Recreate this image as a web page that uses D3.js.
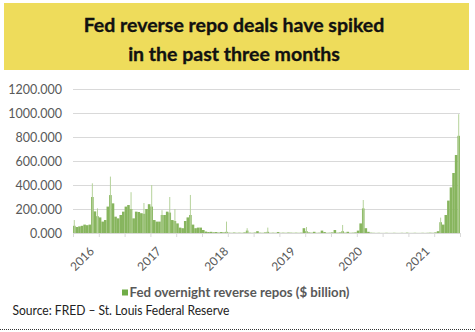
<!DOCTYPE html>
<html>
<head>
<meta charset="utf-8">
<script src="https://cdn.jsdelivr.net/npm/d3@7/dist/d3.min.js"></script>
<style>
body { margin: 0; background: #fff; }
svg { display: block; font-family: Lato, "Open Sans", sans-serif; }
.axis path { display: none; }
.axis line { stroke: #d9d9d9; }
.axis text { fill: #595959; }
</style>
</head>
<body>
<svg width="475" height="332"></svg>
<script>

// chart text
var titleLines = ["Fed reverse repo deals have spiked", "in the past three months"];
var seriesName = "Fed overnight reverse repos ($ billion)";
var sourceText = "Source: FRED \u2013 St. Louis Federal Reserve";

// y axis ticks ($ billion)
var yTicks = [0, 200, 400, 600, 800, 1000, 1200];

// x axis: year labels and the period they sit on
var yearLabels = ["2016", "2017", "2018", "2019", "2020", "2021"];
var yearLabelPeriod = [8, 34, 60, 86, 112, 138];

// series values, one per period
var repos2015_16 = [60, 50, 55, 60, 70, 65, 70, 300, 180, 140, 130, 95, 108, 220, 316, 247,
                    136, 122, 150, 178, 220, 233, 200, 122, 178, 175, 165, 160, 200, 240];
var repos2016_17 = [220, 108, 95, 95, 150, 150, 178, 170, 108, 100, 80, 45, 40, 100, 130, 150,
                    70, 40, 45, 45, 25, 12, 8, 10, 6, 8, 4, 8, 5, 10];
var repos2018_19 = [3, 2, 4, 2, 3, 2, 5, 20, 3, 2, 4, 15, 3, 2, 5, 10,
                    2, 3, 2, 8, 2, 3, 2, 4, 3, 2, 3, 2, 3, 40];
var repos2019_20 = [15, 5, 3, 10, 2, 3, 20, 8, 2, 3, 5, 25, 3, 5, 15, 3,
                    10, 2, 3, 5, 20, 80, 205, 40, 10, 3, 2, 1, 2, 1];
var repos2020_21 = [1, 2, 1, 1, 2, 1, 1, 2, 1, 3, 1, 1, 2, 1, 1, 2,
                    1, 2, 3, 2, 5, 15, 90, 70, 150, 270, 380, 500, 650, 810];

// single-day spikes: period and value
var spikePeriod = [0, 7, 9, 14, 22, 27, 30, 34, 37, 39, 45, 59, 67, 75, 90, 104, 112, 142, 149];
var spikeValue = [108, 414, 205, 470, 340, 250, 400, 190, 300, 200, 317, 95, 40, 45, 50, 67, 275, 128, 990];

var repos = [].concat(repos2015_16, repos2016_17, repos2018_19, repos2019_20, repos2020_21);
var periods = d3.range(repos.length);

var svg = d3.select("svg");

// yellow title banner
svg.append("rect")
    .attr("x", 4).attr("y", 3)
    .attr("width", 465).attr("height", 67)
    .attr("fill", "#eedc5b");

svg.append("g").selectAll("text")
    .data(titleLines)
  .enter().append("text")
    .attr("x", 234)
    .attr("y", function(d, i) { return 31.5 + i * 29; })
    .attr("text-anchor", "middle")
    .attr("font-weight", "bold")
    .attr("font-size", "19.5px")
    .attr("fill", "#111")
    .attr("stroke", "#111")
    .attr("stroke-width", 0.35)
    .text(function(d) { return d; });

var plotLeft = 73, plotRight = 460, plotTop = 89, plotBottom = 233;

var x = d3.scaleBand()
    .domain(periods)
    .range([plotLeft, plotRight]);

var xTick = d3.scaleLinear()
    .domain([0, repos.length])
    .range([plotLeft, plotRight]);

var y = d3.scaleLinear()
    .domain([0, 1200])
    .range([plotBottom, plotTop]);

// gridlines + y labels
svg.append("g")
    .attr("class", "axis")
    .attr("transform", "translate(" + plotLeft + ",0)")
    .call(d3.axisLeft(y)
        .tickValues(yTicks)
        .tickFormat(d3.format(".3f"))
        .tickSize(-(plotRight - plotLeft))
        .tickPadding(11))
    .call(function(g) {
      g.selectAll("text").attr("font-size", "12.5px").attr("font-family", "Lato, sans-serif");
    });

// bars
svg.append("g")
  .selectAll("rect")
    .data(repos)
  .enter().append("rect")
    .attr("x", function(d, i) { return x(i); })
    .attr("y", function(d) { return y(d); })
    .attr("width", x.bandwidth())
    .attr("height", function(d) { return y(0) - y(d); })
    .attr("fill", "#87b55e");

// thin spikes
svg.append("g")
  .selectAll("line")
    .data(spikePeriod)
  .enter().append("line")
    .attr("x1", function(d) { return x(d) + x.bandwidth() / 2; })
    .attr("x2", function(d) { return x(d) + x.bandwidth() / 2; })
    .attr("y1", y(0))
    .attr("y2", function(d, i) { return y(spikeValue[i]); })
    .attr("stroke", "#b5d29a")
    .attr("stroke-width", 1);

// x axis line and tick marks
svg.append("g")
    .attr("class", "axis")
    .attr("transform", "translate(0," + plotBottom + ")")
    .call(d3.axisBottom(xTick)
        .tickValues(d3.range(0, repos.length + 1, 10))
        .tickFormat("")
        .tickSize(4));

svg.append("line")
    .attr("x1", plotLeft).attr("x2", plotRight)
    .attr("y1", plotBottom + 0.5).attr("y2", plotBottom + 0.5)
    .attr("stroke", "#d9d9d9");

// rotated year labels
svg.append("g")
  .selectAll("text")
    .data(yearLabels)
  .enter().append("text")
    .attr("transform", function(d, i) {
      return "translate(" + (x(yearLabelPeriod[i]) + x.bandwidth() / 2) + ",252) rotate(-45)";
    })
    .attr("text-anchor", "end")
    .attr("font-size", "12px")
    .attr("fill", "#595959")
    .text(function(d) { return d; });

// legend
var legend = svg.append("g").attr("transform", "translate(122,289.5)");
legend.append("rect")
    .attr("width", 6).attr("height", 6)
    .attr("fill", "#70ad47");
legend.append("text")
    .attr("x", 7.5).attr("y", 7.5)
    .attr("font-size", "12.5px")
    .attr("font-weight", "bold")
    .attr("fill", "#595959")
    .attr("textLength", 220)
    .attr("lengthAdjust", "spacingAndGlyphs")
    .text(seriesName);

// source line
svg.append("text")
    .attr("x", 12.5).attr("y", 315)
    .attr("font-size", "12.8px")
    .attr("fill", "#222")
    .attr("textLength", 217)
    .attr("lengthAdjust", "spacingAndGlyphs")
    .text(sourceText);

svg.append("line")
    .attr("x1", 0).attr("x2", 475)
    .attr("y1", 329.5).attr("y2", 329.5)
    .attr("stroke", "#333")
    .attr("stroke-dasharray", "1,1");

</script>
</body>
</html>
